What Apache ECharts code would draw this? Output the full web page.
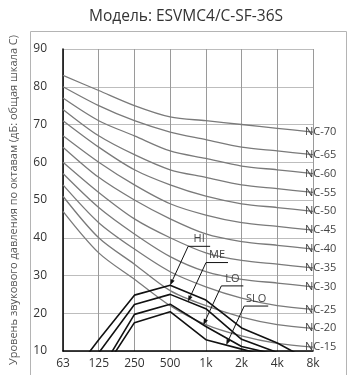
<!DOCTYPE html>
<html>
<head>
<meta charset="utf-8">
<script src="https://cdn.jsdelivr.net/npm/echarts@6/dist/echarts.min.js"></script>
<style>
  html, body { margin: 0; padding: 0; background: #fff; }
  #chart { width: 347px; height: 375px; }
</style>
</head>
<body>
<div id="chart"></div>
<script>
// octave band centre frequencies
const categories = ['63', '125', '250', '500', '1k', '2k', '4k', '8k']

// NC reference curves (dB)
const nc15 = [47, 36, 29, 22, 17, 14, 12, 11]
const nc20 = [51, 40, 33, 26, 22, 19, 17, 16]
const nc25 = [54, 44, 37, 31, 27, 24, 22, 21]
const nc30 = [57, 48, 41, 35, 31, 29, 28, 27]
const nc35 = [60, 52, 45, 40, 36, 34, 33, 32]
const nc40 = [64, 56, 50, 45, 41, 39, 38, 37]
const nc45 = [67, 60, 54, 49, 46, 44, 43, 42]
const nc50 = [71, 64, 58, 54, 51, 49, 48, 47]
const nc55 = [74, 67, 62, 58, 56, 54, 53, 52]
const nc60 = [77, 71, 67, 63, 61, 59, 58, 57]
const nc65 = [80, 75, 71, 68, 66, 64, 63, 62]
const nc70 = [83, 79, 75, 72, 71, 70, 69, 68]
const ncNames = ['NC-15', 'NC-20', 'NC-25', 'NC-30', 'NC-35', 'NC-40', 'NC-45', 'NC-50', 'NC-55', 'NC-60', 'NC-65', 'NC-70']
const ncCurves = [nc15, nc20, nc25, nc30, nc35, nc40, nc45, nc50, nc55, nc60, nc65, nc70]

// measured spectra per fan speed
const hi = [0.5, 13, 24.8, 27.4, 23.5, 16.1, 12.1, 7]
const me = [-3, 9.5, 22.3, 25.0, 21.2, 13.1, 9.6, 5]
const lo = [-10, 4, 19.7, 22.4, 16.5, 11.2, 9, 5]
const slo = [-12, 3, 17.5, 20.4, 13.0, 10.5, 8, 5]
const modeNames = ['HI', 'ME', 'LO', 'SLO']
const modeCurves = [hi, me, lo, slo]
// where each leader arrow touches its curve (category index, may be fractional)
const modeArrowAt = [3, 3.5, 3.93, 4.57]

const FONT = 'Open Sans, Noto Sans, sans-serif'
const chart = echarts.init(document.getElementById('chart'))

const series = []
ncCurves.forEach((data, i) => {
  series.push({
    name: ncNames[i],
    type: 'line',
    data: data,
    smooth: 0.3,
    symbol: 'none',
    silent: true,
    lineStyle: { color: '#7a7a7a', width: 1.3 },
    endLabel: {
      show: true,
      formatter: ncNames[i],
      offset: [-16, 0],
      color: '#444',
      fontSize: 11,
      fontFamily: FONT
    }
  })
})
modeCurves.forEach((data, i) => {
  series.push({
    name: modeNames[i],
    type: 'line',
    data: data,
    symbol: 'none',
    silent: true,
    z: 5,
    lineStyle: { color: '#111', width: 1.6 }
  })
})

chart.setOption({
  animation: false,
  title: {
    text: 'Модель: ESVMC4/C-SF-36S',
    left: 84,
    top: 4,
    textStyle: { fontSize: 15.5, fontWeight: 'normal', color: '#333', fontFamily: FONT }
  },
  grid: { left: 60, right: 34, top: 49, bottom: 24 },
  xAxis: {
    type: 'category',
    data: categories,
    boundaryGap: false,
    axisLine: { lineStyle: { color: '#000', width: 1.5 } },
    axisTick: { show: false },
    axisLabel: { color: '#333', fontSize: 12, margin: 7, fontFamily: FONT },
    splitLine: { show: true, lineStyle: { color: '#9a9a9a' } }
  },
  yAxis: {
    type: 'value',
    min: 10,
    max: 90,
    interval: 10,
    name: 'Уровень звукового давления по октавам (дБ: общая шкала С)',
    nameLocation: 'middle',
    nameGap: 44,
    nameTextStyle: { color: '#555', fontSize: 11, fontFamily: FONT },
    axisLine: { show: true, lineStyle: { color: '#000', width: 1.5 } },
    axisTick: { show: false },
    axisLabel: { color: '#333', fontSize: 12, margin: 16, fontFamily: FONT },
    splitLine: { lineStyle: { color: '#bdbdbd' } }
  },
  series: series
})

// pixel point on a curve at a (fractional) category index
const pointOn = (data, at) => {
  const i = Math.min(Math.floor(at), data.length - 2)
  const t = at - i
  const a = chart.convertToPixel({ gridIndex: 0 }, [i, data[i]])
  const b = chart.convertToPixel({ gridIndex: 0 }, [i + 1, data[i + 1]])
  return [a[0] + (b[0] - a[0]) * t, a[1] + (b[1] - a[1]) * t]
}

const graphics = [{
  type: 'rect',
  silent: true,
  z: -1,
  shape: { x: 30.5, y: 31.5, width: 316, height: 360 },
  style: { fill: 'none', stroke: '#b4b4b4', lineWidth: 1 }
}]

modeCurves.forEach((data, i) => {
  const tip = pointOn(data, modeArrowAt[i])
  const elbow = [tip[0] + 18, tip[1] - 39]
  const ulen = modeNames[i].length > 2 ? 24 : 22
  const end = [elbow[0] + ulen, elbow[1]]
  // arrow head
  const dx = tip[0] - elbow[0]
  const dy = tip[1] - elbow[1]
  const len = Math.sqrt(dx * dx + dy * dy)
  const ux = dx / len
  const uy = dy / len
  const hl = 6
  const hw = 2.2
  const base = [tip[0] - ux * hl, tip[1] - uy * hl]
  graphics.push({
    type: 'polyline',
    silent: true,
    z: 10,
    shape: { points: [base, elbow, end] },
    style: { stroke: '#111', lineWidth: 1, fill: 'none' }
  })
  graphics.push({
    type: 'polygon',
    silent: true,
    z: 10,
    shape: {
      points: [
        tip,
        [base[0] - uy * hw, base[1] + ux * hw],
        [base[0] + uy * hw, base[1] - ux * hw]
      ]
    },
    style: { fill: '#111' }
  })
  graphics.push({
    type: 'text',
    silent: true,
    z: 10,
    x: (elbow[0] + end[0]) / 2,
    y: elbow[1] - 2,
    style: {
      text: modeNames[i],
      fill: '#444',
      fontSize: 11,
      fontFamily: FONT,
      align: 'center',
      verticalAlign: 'bottom'
    }
  })
})

chart.setOption({ graphic: graphics })
</script>
</body>
</html>
